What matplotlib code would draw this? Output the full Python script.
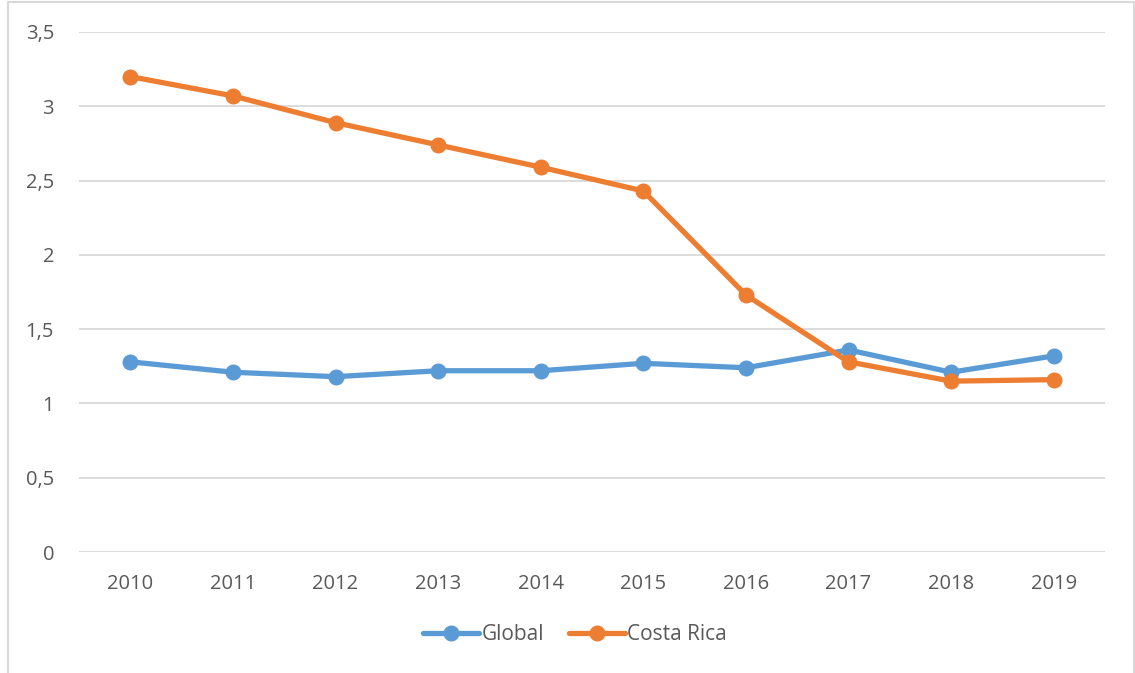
import matplotlib.pyplot as plt
from matplotlib.patches import Rectangle
from matplotlib.ticker import FuncFormatter

years = ['2010', '2011', '2012', '2013', '2014', '2015', '2016', '2017', '2018', '2019']
global_vals = [1.28, 1.21, 1.18, 1.22, 1.22, 1.27, 1.24, 1.36, 1.21, 1.32]
costa_rica = [3.20, 3.07, 2.89, 2.74, 2.59, 2.43, 1.73, 1.28, 1.15, 1.16]

plt.rcParams['font.family'] = ['Open Sans', 'DejaVu Sans']

fig = plt.figure(figsize=(11.35, 6.73), dpi=100)
W, H = 1135, 673
ax = fig.add_axes([79 / W, 121 / H, 1026 / W, 520 / H])

x = range(len(years))
ax.plot(x, global_vals, color='#5B9BD5', lw=3.8, marker='o', ms=10.5, label='Global',
        solid_capstyle='round')
ax.plot(x, costa_rica, color='#ED7D31', lw=3.8, marker='o', ms=10.5, label='Costa Rica',
        solid_capstyle='round')

ax.set_xlim(-0.5, len(years) - 0.5)
ax.set_ylim(0, 3.5)
ax.set_yticks([0, 0.5, 1, 1.5, 2, 2.5, 3, 3.5])
ax.yaxis.set_major_formatter(FuncFormatter(lambda v, p: ('%g' % v).replace('.', ',')))
ax.set_xticks(list(x))
ax.set_xticklabels(years)
ax.grid(axis='y', color='#d9d9d9', lw=1.3)
ax.set_axisbelow(True)
for s in ax.spines.values():
    s.set_visible(False)
ax.tick_params(length=0, labelsize=14.5, colors='#595959')
ax.tick_params(axis='y', pad=18)
ax.tick_params(axis='x', pad=16)

leg = fig.legend(loc='center', bbox_to_anchor=(575 / W, 1 - 635 / H), ncol=2, frameon=False,
                 fontsize=15, handlelength=2.7, handletextpad=0.1, columnspacing=1.2)
for t in leg.get_texts():
    t.set_color('#595959')

fig.patches.append(Rectangle((8 / W, -0.05), 1126 / W, 1.05 - 2 / H, transform=fig.transFigure,
                             fill=False, edgecolor='#d9d9d9', lw=1.5))

fig.savefig('out.png', dpi=100)
